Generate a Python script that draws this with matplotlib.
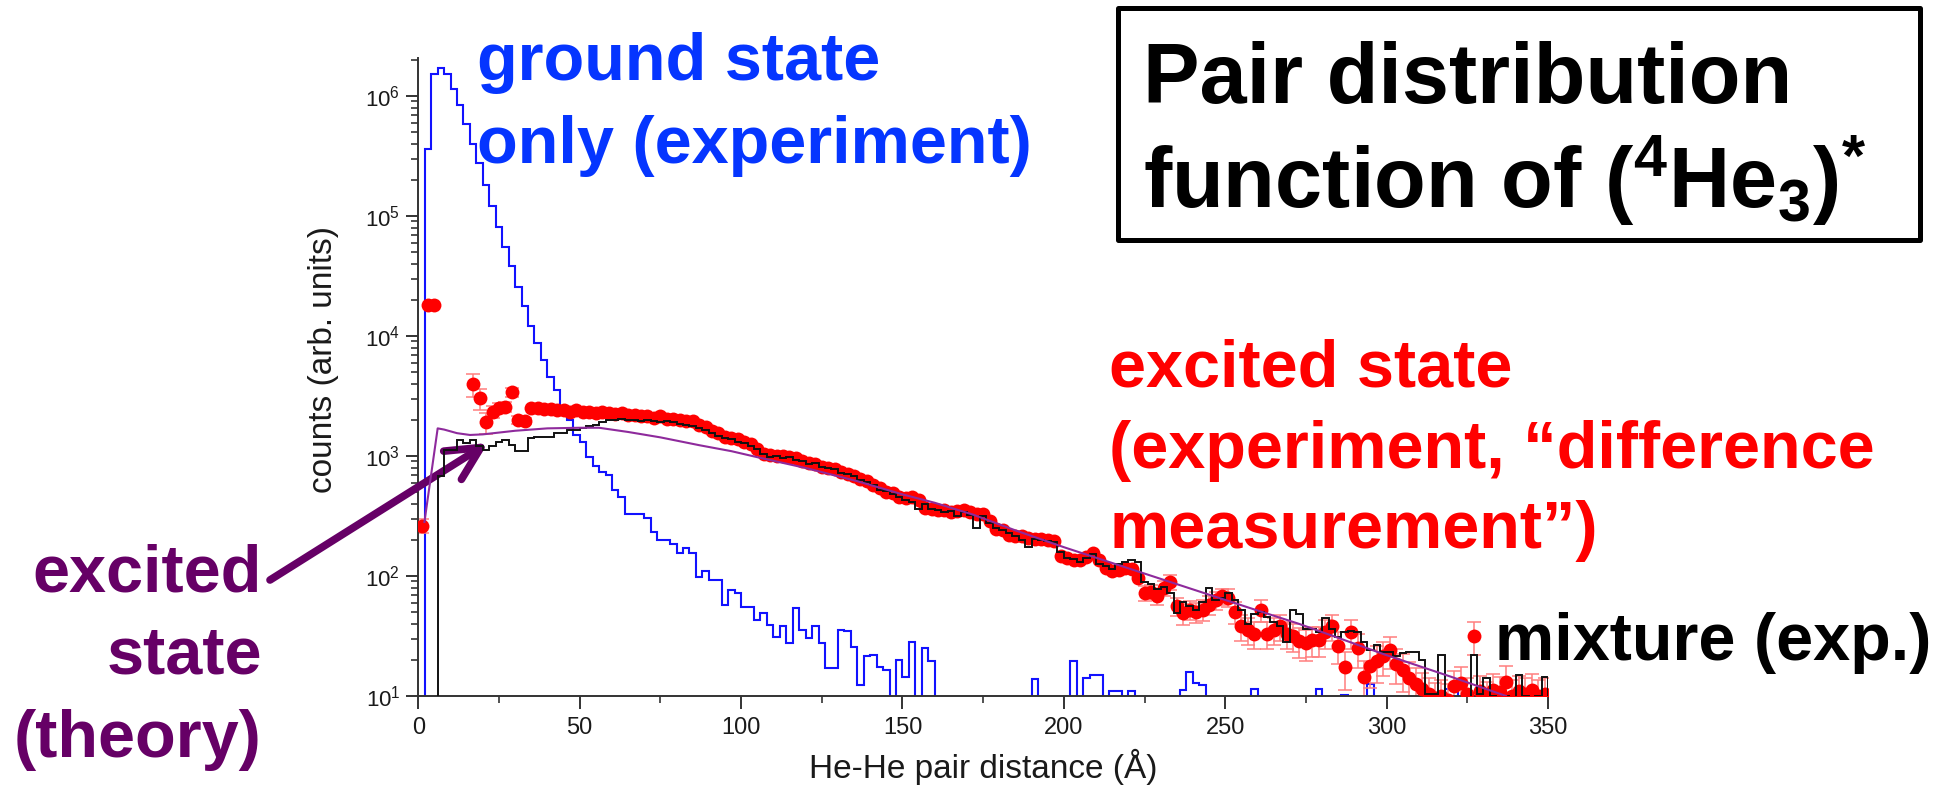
import numpy as np
import matplotlib
matplotlib.use("Agg")
import matplotlib.pyplot as plt
from matplotlib.patches import Rectangle

plt.rcParams['font.family'] = ['Liberation Sans', 'DejaVu Sans']

# ---- values, as log10(counts) ----

# ground state only (blue histogram), 2 A bins starting at 2 A
blue_lg = [5.56, 6.18, 6.23, 6.18, 6.06, 5.925, 5.77, 5.60, 5.44, 5.26,
           5.08, 4.91, 4.74, 4.58, 4.41, 4.25, 4.08, 3.94, 3.80, 3.66,
           3.55, 3.42, 3.30, 3.175, 3.12, 2.99, 2.92, 2.87, 2.84, 2.72,
           2.66, 2.52, 2.52, 2.52, 2.48, 2.37, 2.30, 2.30, 2.27, 2.19,
           2.23, 2.19, 1.99, 2.04, 1.97, 1.97, 1.76, 1.88, 1.86, 1.74,
           1.74, 1.63, 1.69, 1.59, 1.49, 1.58, 1.44, 1.73, 1.55, 1.48,
           1.58, 1.44, 1.23, 1.23, 1.55, 1.54, 1.41, 1.09, 1.33, 1.34,
           1.24, 1.22, 0, 1.30, 1.16, 1.45, 0, 1.40, 1.29]
# sparse tail of the blue histogram (left bin edge, log10 counts)
blue_tail_left = [190, 202, 206, 208, 210, 214, 216, 220, 236, 238,
                  240, 242, 258, 278, 286, 294, 318, 320]
blue_tail_lg = [1.14, 1.29, 1.15, 1.175, 1.175, 1.04, 1.04, 1.04, 1.05, 1.20,
                1.11, 1.09, 1.06, 1.06, 1.01, 1.10, 1.06, 1.06]

# mixture (black histogram), 2 A bins starting at 6 A
black_lg = [2.83, 3.05, 3.05, 3.13, 3.11, 3.13, 3.08, 3.05, 3.08, 3.12,
            3.13, 3.09, 3.04, 3.04, 3.15, 3.16, 3.16, 3.16, 3.19, 3.19,
            3.22, 3.22, 3.23, 3.25, 3.26, 3.285, 3.30, 3.30, 3.31, 3.30,
            3.30, 3.29, 3.30, 3.29, 3.28, 3.29, 3.28, 3.27, 3.26, 3.25,
            3.23, 3.22, 3.19, 3.17, 3.15, 3.14, 3.12, 3.11, 3.08, 3.06,
            3.02, 2.99, 3.00, 2.98, 2.99, 2.97, 2.96, 2.93, 2.94, 2.91,
            2.90, 2.89, 2.86, 2.85, 2.83, 2.80, 2.78, 2.76, 2.72, 2.71,
            2.68, 2.66, 2.63, 2.62, 2.56, 2.60, 2.56, 2.55, 2.53, 2.54,
            2.50, 2.53, 2.51, 2.40, 2.50, 2.44, 2.40, 2.38, 2.36, 2.33,
            2.30, 2.24, 2.31, 2.30, 2.29, 2.28, 2.20, 2.15, 2.14, 2.12,
            2.15, 2.18, 2.10, 2.08, 2.06, 2.10, 2.12, 2.13, 2.12, 1.95,
            1.93, 1.89, 1.91, 1.86, 1.69, 1.78, 1.75, 1.72, 1.78, 1.90,
            1.80, 1.82, 1.86, 1.80, 1.72, 1.60, 1.68, 1.70, 1.66, 1.62,
            1.58, 1.45, 1.72, 1.68, 1.56, 1.56, 1.535, 1.65, 1.56, 1.49,
            1.535, 1.54, 1.535, 1.45, 1.38, 1.425, 1.37, 1.37, 1.33, 1.36,
            1.37, 1.37, 1.30, 1.02, 1.02, 1.34, 0.9, 0.9, 0.9, 0.95,
            1.34, 1.02, 1.15, 1.0, 0.95, 1.0, 0.95, 1.175, 1.0, 0.95,
            1.0, 1.16]

# excited state, difference measurement (red points)
red_x = [1, 3, 5] + list(range(17, 350, 2))
red_lg = [2.42, 4.26, 4.26,
          3.60, 3.48, 3.28, 3.37, 3.40, 3.41, 3.53, 3.30, 3.29, 3.40,
          3.40, 3.39, 3.39, 3.38, 3.38, 3.37, 3.38, 3.37, 3.37, 3.36,
          3.37, 3.36, 3.35, 3.36, 3.34, 3.34, 3.33, 3.33, 3.32, 3.33,
          3.31, 3.31, 3.30, 3.29, 3.29, 3.26, 3.24, 3.21, 3.19, 3.16,
          3.15, 3.14, 3.12, 3.10, 3.06, 3.02, 3.01, 3.00, 3.00, 2.99,
          2.98, 2.96, 2.94, 2.93, 2.91, 2.90, 2.89, 2.87, 2.85, 2.83,
          2.81, 2.79, 2.76, 2.73, 2.70, 2.69, 2.66, 2.65, 2.66, 2.63,
          2.57, 2.56, 2.55, 2.55, 2.53, 2.54, 2.55, 2.53, 2.52, 2.52,
          2.46, 2.39, 2.38, 2.34, 2.33, 2.33, 2.32, 2.31, 2.31, 2.30,
          2.29, 2.17, 2.15, 2.13, 2.13, 2.16, 2.19, 2.13, 2.07, 2.04,
          2.05, 2.07, 2.06, 1.98, 1.86, 1.87, 1.83, 1.90, 1.95, 1.75,
          1.69, 1.72, 1.70, 1.72, 1.76, 1.80, 1.83, 1.82, 1.70, 1.58,
          1.55, 1.52, 1.72, 1.52, 1.55, 1.58, 1.52, 1.50, 1.46, 1.44,
          1.47, 1.47, 1.53, 1.58, 1.42, 1.24, 1.53, 1.40, 1.16, 1.25,
          1.29, 1.33, 1.38, 1.27, 1.22, 1.15, 1.10, 1.06, 1.02, 0.98,
          1.00, 0.97, 1.08, 1.11, 1.02, 1.50, 1.04, 0.99, 1.05, 1.03,
          1.12, 1.00, 1.04, 1.02, 1.05, 1.00, 1.02]
# points with visible error bars, relative error
err_x = [1, 17, 19, 21, 23, 25, 27, 29, 31, 33] + list(range(225, 350, 2))
err_frac = [0.13, 0.22, 0.20, 0.20, 0.12, 0.10, 0.10, 0.08, 0.08, 0.06,
            .14, .14, .15, .15, .14, .17, .20, .18, .19, .20,
            .18, .17, .16, .17, .20, .24, .25, .26, .21, .26,
            .25, .24, .26, .27, .28, .29, .28, .28, .27, .25,
            .30, .35, .27, .32, .35, .35, .34, .32, .30, .33,
            .35, .35, .35, .35, .35, .35, .35, .35, .35, .35,
            .35, .30, .35, .35, .35, .35, .35, .35, .35, .35,
            .35, .35, .35]

# excited state theory (purple line)
theo_x = [1.9, 6.0, 8, 12, 16, 20, 30, 40, 50, 56, 65, 75, 87, 97, 105,
          120, 136, 150, 160, 172, 185, 200, 225, 258, 273, 300, 320, 337]
theo_lg = [2.45, 3.23, 3.22, 3.19, 3.175, 3.18, 3.21, 3.23, 3.235, 3.235,
           3.20, 3.155, 3.09, 3.04, 2.99, 2.90, 2.79, 2.68, 2.61, 2.51,
           2.38, 2.24, 2.02, 1.73, 1.60, 1.34, 1.16, 1.00]

# ---- build counts ----
blue_edges = np.arange(2, 351, 2)
blue_counts = np.ones(len(blue_edges) - 1)          # 1 count = below the axis
blue_counts[:len(blue_lg)] = 10.0 ** np.array(blue_lg)
tail_idx = (np.array(blue_tail_left) - 2) // 2
blue_counts[tail_idx] = 10.0 ** np.array(blue_tail_lg)

black_edges = np.arange(6, 351, 2)
black_counts = 10.0 ** np.array(black_lg)

red_counts = 10.0 ** np.array(red_lg)
lookup = dict(zip(red_x, red_counts))
err_y = np.array([lookup[x] for x in err_x])
err_abs = err_y * np.array(err_frac)

theo_counts = 10.0 ** np.array(theo_lg)

# ---- figure ----
W, H = 1958, 789
fig = plt.figure(figsize=(W / 100, H / 100), dpi=100)
ax = fig.add_axes([418.3 / W, 93 / H, 1129.7 / W, 638 / H])


def fx(px):
    return px / W


def fy(py):
    return 1 - py / H


ax.stairs(blue_counts, blue_edges, baseline=1, color='#1212ff', lw=1.5, zorder=1)
ax.errorbar(err_x, err_y, yerr=err_abs, fmt='none', ecolor='#ff7f7f',
            elinewidth=1.1, capsize=5, capthick=1.1, zorder=2)
ax.plot(red_x, red_counts, 'o', color='red', ms=10, mec='none', zorder=3)
ax.stairs(black_counts, black_edges, baseline=1, color='#111111', lw=1.4, zorder=4)
ax.plot(theo_x, theo_counts, color='#8e2a9c', lw=1.5, zorder=5)

ax.set_yscale('log')
ax.set_xlim(0, 350)
ax.set_ylim(10, 2.07e6)
ax.set_xticks(np.arange(0, 351, 50))
ax.set_xticks(np.arange(25, 350, 50), minor=True)

for s in ['top', 'right']:
    ax.spines[s].set_visible(False)
for s in ['left', 'bottom']:
    ax.spines[s].set_color('#333333')
    ax.spines[s].set_linewidth(1.4)

ax.tick_params(axis='both', which='major', direction='out', length=9, width=1.4,
               color='#333333', labelcolor='#1a1a1a')
ax.tick_params(axis='both', which='minor', direction='out', length=5, width=1.2,
               color='#333333')
ax.tick_params(axis='x', which='major', labelsize=17, pad=6)
ax.tick_params(axis='y', which='major', labelsize=16, pad=4)

ax.set_xlabel('He-He pair distance (Å)', fontsize=24, color='#1a1a1a')
ax.xaxis.label.set_va('baseline')
ax.xaxis.set_label_coords(0.5, -0.1285)
ax.set_ylabel('counts (arb. units)', fontsize=24, color='#1a1a1a')
ax.yaxis.label.set_va('baseline')
ax.yaxis.set_label_coords(-0.0765, 0.527)

# ---- annotations ----
bold = dict(fontsize=48, fontweight='bold')
fig.text(fx(477), fy(80), 'ground state', color='#0535ff', va='baseline', **bold)
fig.text(fx(477), fy(163), 'only (experiment)', color='#0535ff', va='baseline', **bold)

fig.text(fx(1109), fy(386), 'excited state', color='red', va='baseline', **bold)
fig.text(fx(1109), fy(468), '(experiment, “difference', color='red', va='baseline', **bold)
fig.text(fx(1109), fy(548), 'measurement”)', color='red', va='baseline', **bold)

fig.text(fx(1495), fy(660), 'mixture (exp.)', color='black', va='baseline', **bold)

purple = '#660066'
fig.text(fx(262), fy(592), 'excited', color=purple, va='baseline', ha='right', **bold)
fig.text(fx(262), fy(673), 'state', color=purple, va='baseline', ha='right', **bold)
fig.text(fx(262), fy(757), '(theory)', color=purple, va='baseline', ha='right', **bold)

ax.annotate('', xy=(21.6, 1283), xycoords='data',
            xytext=(fx(270), fy(580)), textcoords='figure fraction',
            arrowprops=dict(arrowstyle='->,head_length=1.2,head_width=0.6',
                            mutation_scale=20, lw=5.5, color=purple,
                            shrinkA=0, shrinkB=0),
            annotation_clip=False)

fig.add_artist(Rectangle((fx(1118), fy(240)), (1920 - 1118) / W, (240 - 8) / H,
                         transform=fig.transFigure, fill=False, lw=3.6,
                         ec='black', joinstyle='round'))
title = dict(fontsize=61, fontweight='bold', color='black', va='baseline')
fig.text(fx(1143), fy(103), 'Pair distribution', **title)
fig.text(fx(1143), fy(208), 'function of $\\mathdefault{(^{4}He_{3})^{*}}$', **title)

fig.savefig('out.png', dpi=100)
